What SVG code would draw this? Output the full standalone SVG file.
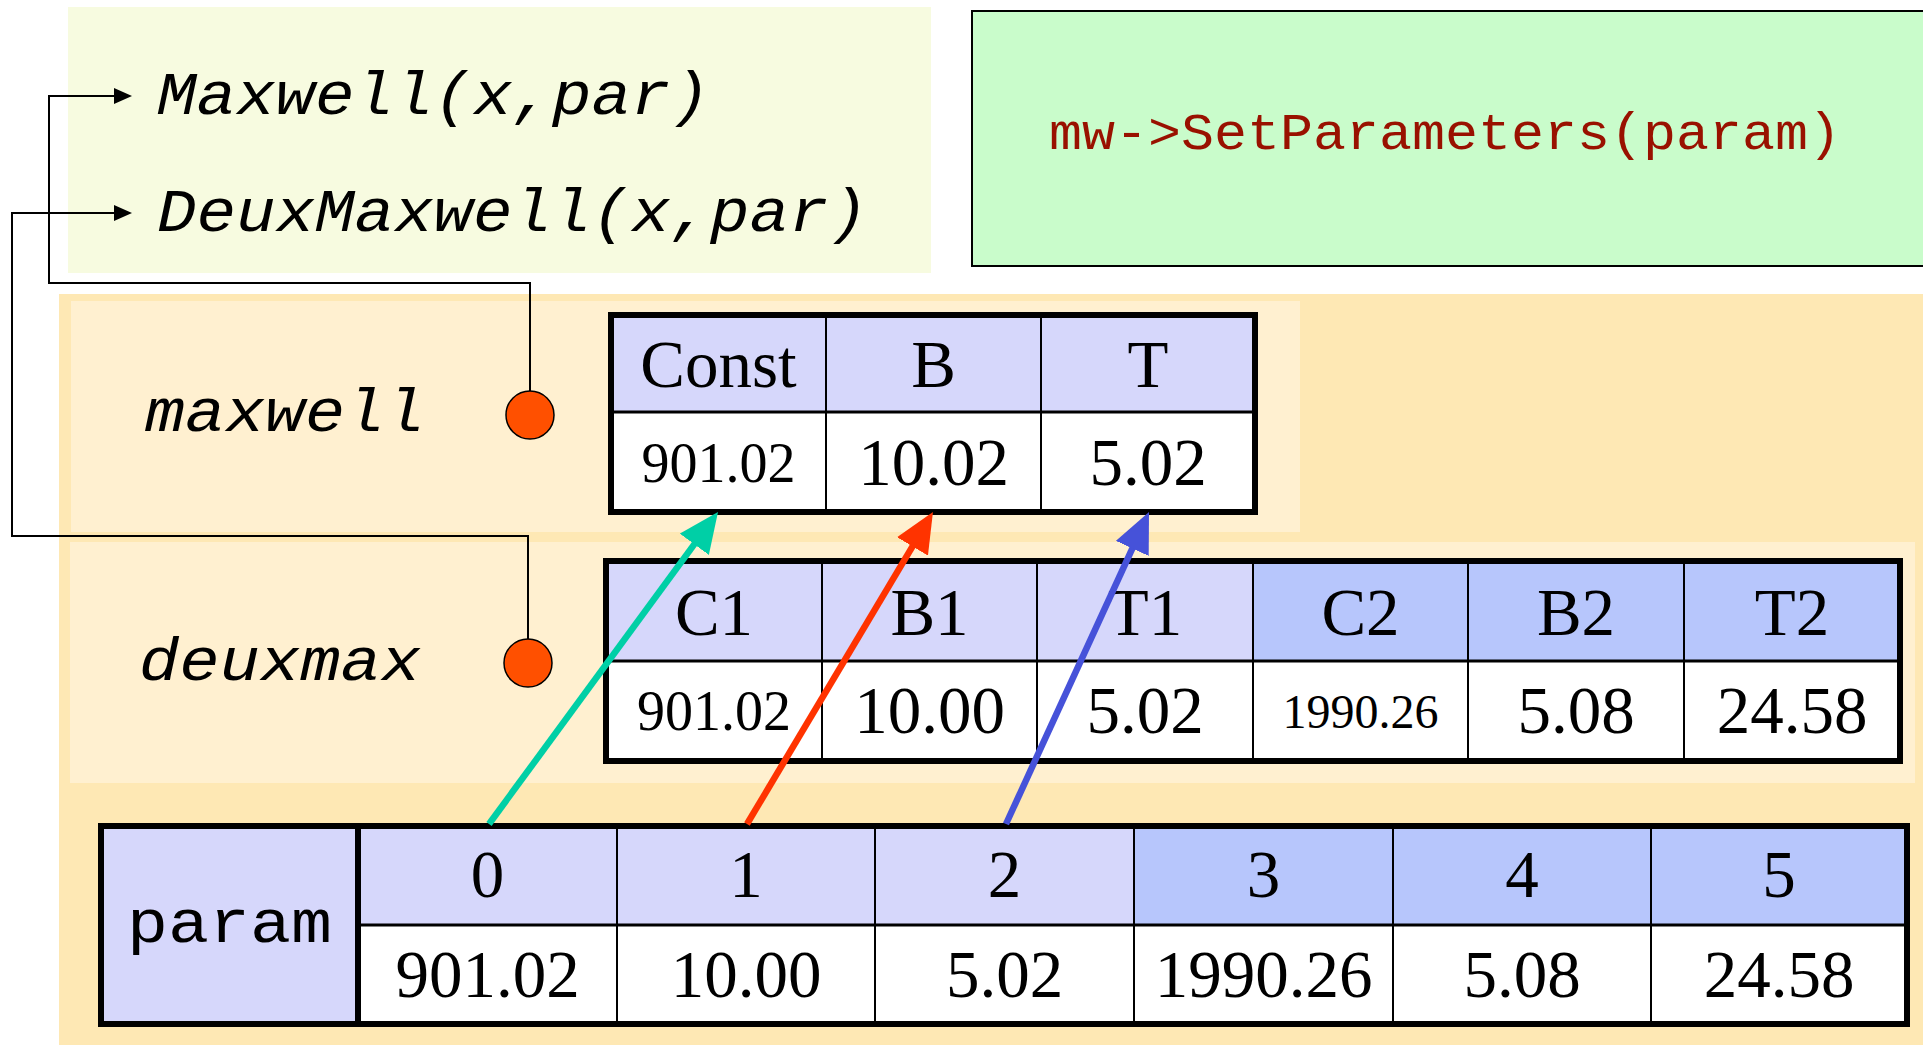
<svg xmlns="http://www.w3.org/2000/svg" width="1923" height="1045" viewBox="0 0 1923 1045">
<style>
.mono{font-family:"Liberation Mono","Courier New",monospace;fill:#000;}
.it{font-style:italic;}
.serif{font-family:"Liberation Serif","Times New Roman",serif;text-anchor:middle;fill:#000;font-size:67px;}
.sm{font-size:56px;}
.xs{font-size:48px;}
.hd1{fill:#D6D7FB;}
.hd2{fill:#B7C6FC;}
.val{fill:#FFFFFF;}
.frame{fill:none;stroke:#000;stroke-width:6;}
.grid{stroke:#000;stroke-width:2;}
.hline{stroke:#000;stroke-width:3;}
.conn{fill:none;stroke:#000;stroke-width:2;}
.dot{fill:#FF5000;stroke:#000;stroke-width:1.5;}
.arr{stroke-width:6.5;}
</style>
<defs>
<marker id="ah" markerUnits="userSpaceOnUse" viewBox="0 0 18 16" refX="0" refY="8" markerWidth="18" markerHeight="16" orient="auto"><path d="M0,0 L18,8 L0,16 Z" fill="#000"/></marker>
<marker id="ag" markerUnits="userSpaceOnUse" viewBox="0 0 40 36" refX="10" refY="18" markerWidth="40" markerHeight="36" orient="auto"><path d="M0,0 L40,18 L0,36 Z" fill="#00CFA6"/></marker>
<marker id="ar" markerUnits="userSpaceOnUse" viewBox="0 0 40 36" refX="10" refY="18" markerWidth="40" markerHeight="36" orient="auto"><path d="M0,0 L40,18 L0,36 Z" fill="#FF3300"/></marker>
<marker id="ab" markerUnits="userSpaceOnUse" viewBox="0 0 40 36" refX="10" refY="18" markerWidth="40" markerHeight="36" orient="auto"><path d="M0,0 L40,18 L0,36 Z" fill="#4652D9"/></marker>
</defs>
<rect x="0" y="0" width="1923" height="1045" fill="#FFFFFF"/>

<g id="functions">
<rect x="68" y="7" width="863" height="266" fill="#F7FBE0"/>
<text class="mono it" x="157" y="114" font-size="62" textLength="553" lengthAdjust="spacingAndGlyphs">Maxwell(x,par)</text>
<text class="mono it" x="157" y="231" font-size="62" textLength="711" lengthAdjust="spacingAndGlyphs">DeuxMaxwell(x,par)</text>
</g>

<g id="setparameters">
<rect x="972" y="11" width="970" height="255" fill="#C9FCCB" stroke="#000" stroke-width="2"/>
<text class="mono" x="1049" y="149" font-size="52" style="fill:#991100" textLength="792" lengthAdjust="spacingAndGlyphs">mw-&gt;SetParameters(param)</text>
</g>

<g id="background">
<rect x="59" y="294" width="1864" height="751" fill="#FEE8B4"/>
</g>

<g id="maxwell">
<rect x="71" y="301" width="1229" height="231" fill="#FFF0D0"/>
<text class="mono it" x="145" y="431" font-size="62" textLength="280" lengthAdjust="spacingAndGlyphs">maxwell</text>
<circle class="dot" cx="530" cy="415" r="24"/>
<g id="maxwell-table">
<rect class="hd1" x="611" y="315" width="644" height="97"/>
<rect class="val" x="611" y="412" width="644" height="100"/>
<line class="grid" x1="826" y1="315" x2="826" y2="512"/>
<line class="grid" x1="1041" y1="315" x2="1041" y2="512"/>
<line class="hline" x1="611" y1="412" x2="1255" y2="412"/>
<rect class="frame" x="611" y="315" width="644" height="197"/>
<text class="serif" x="718.5" y="387">Const</text>
<text class="serif" x="933.5" y="387">B</text>
<text class="serif" x="1148" y="387">T</text>
<text class="serif sm" x="718.5" y="482">901.02</text>
<text class="serif" x="933.5" y="485">10.02</text>
<text class="serif" x="1148" y="485">5.02</text>
</g>
</g>

<g id="deuxmax">
<rect x="70" y="542" width="1845" height="241" fill="#FFF0D0"/>
<text class="mono it" x="139" y="680" font-size="62" textLength="282" lengthAdjust="spacingAndGlyphs">deuxmax</text>
<circle class="dot" cx="528" cy="663" r="24"/>
<g id="deuxmax-table">
<rect class="hd1" x="606" y="561" width="647" height="100"/>
<rect class="hd2" x="1253" y="561" width="647" height="100"/>
<rect class="val" x="606" y="661" width="1294" height="100"/>
<line class="grid" x1="822" y1="561" x2="822" y2="761"/>
<line class="grid" x1="1037" y1="561" x2="1037" y2="761"/>
<line class="grid" x1="1253" y1="561" x2="1253" y2="761"/>
<line class="grid" x1="1468" y1="561" x2="1468" y2="761"/>
<line class="grid" x1="1684" y1="561" x2="1684" y2="761"/>
<line class="hline" x1="606" y1="661" x2="1900" y2="661"/>
<rect class="frame" x="606" y="561" width="1294" height="200"/>
<text class="serif" x="714" y="635">C1</text>
<text class="serif" x="929.5" y="635">B1</text>
<text class="serif" x="1145" y="635">T1</text>
<text class="serif" x="1360.5" y="635">C2</text>
<text class="serif" x="1576" y="635">B2</text>
<text class="serif" x="1792" y="635">T2</text>
<text class="serif sm" x="714" y="730">901.02</text>
<text class="serif" x="929.5" y="733">10.00</text>
<text class="serif" x="1145" y="733">5.02</text>
<text class="serif xs" x="1360.5" y="728">1990.26</text>
<text class="serif" x="1576" y="733">5.08</text>
<text class="serif" x="1792" y="733">24.58</text>
</g>
</g>

<g id="param">
<rect class="hd1" x="101" y="826" width="257" height="198"/>
<rect class="hd1" x="358" y="826" width="776" height="99"/>
<rect class="hd2" x="1134" y="826" width="773" height="99"/>
<rect class="val" x="358" y="925" width="1549" height="99"/>
<line class="grid" x1="617" y1="826" x2="617" y2="1024"/>
<line class="grid" x1="875" y1="826" x2="875" y2="1024"/>
<line class="grid" x1="1134" y1="826" x2="1134" y2="1024"/>
<line class="grid" x1="1393" y1="826" x2="1393" y2="1024"/>
<line class="grid" x1="1651" y1="826" x2="1651" y2="1024"/>
<line class="hline" x1="358" y1="925" x2="1907" y2="925"/>
<line x1="358" y1="826" x2="358" y2="1024" stroke="#000" stroke-width="6"/>
<rect class="frame" x="101" y="826" width="1806" height="198"/>
<text class="mono" x="127" y="942" font-size="62" textLength="205" lengthAdjust="spacingAndGlyphs">param</text>
<text class="serif" x="487.5" y="897">0</text>
<text class="serif" x="746" y="897">1</text>
<text class="serif" x="1004.5" y="897">2</text>
<text class="serif" x="1263.5" y="897">3</text>
<text class="serif" x="1522" y="897">4</text>
<text class="serif" x="1779" y="897">5</text>
<text class="serif" x="487.5" y="997">901.02</text>
<text class="serif" x="746" y="997">10.00</text>
<text class="serif" x="1004.5" y="997">5.02</text>
<text class="serif" x="1263.5" y="997">1990.26</text>
<text class="serif" x="1522" y="997">5.08</text>
<text class="serif" x="1779" y="997">24.58</text>
</g>

<g id="connectors">
<path class="conn" d="M530,391 V283 H49 V96 H114" marker-end="url(#ah)"/>
<path class="conn" d="M528,639 V536 H12 V213 H114" marker-end="url(#ah)"/>
<line class="arr" x1="489" y1="824" x2="700.25" y2="536.19" stroke="#00CFA6" marker-end="url(#ag)"/>
<line class="arr" x1="747" y1="824" x2="917.6" y2="537.8" stroke="#FF3300" marker-end="url(#ar)"/>
<line class="arr" x1="1006" y1="824" x2="1136.5" y2="539.3" stroke="#4652D9" marker-end="url(#ab)"/>
</g>
</svg>
